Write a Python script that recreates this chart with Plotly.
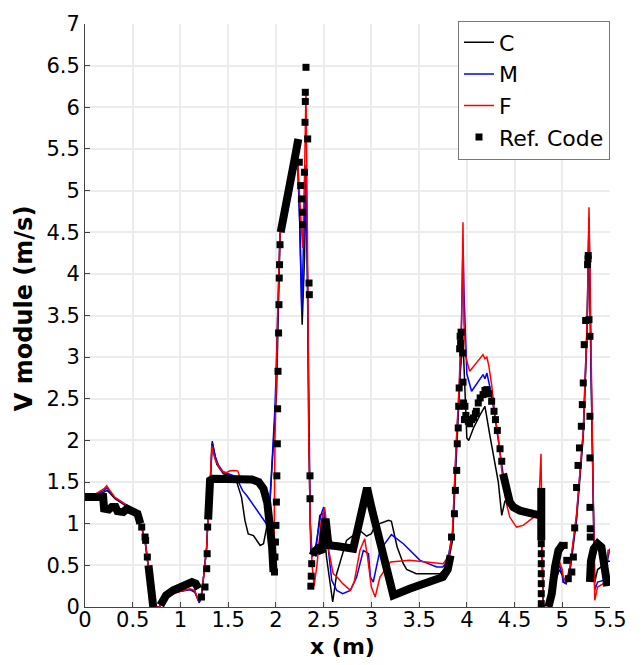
import plotly.graph_objects as go

# ---------------- data ----------------
C_POINTS = [
    (0, 1.32), (0.1, 1.33), (0.2, 1.38), (0.23, 1.40), (0.26, 1.37), (0.314, 1.30), (0.42, 1.22),
    (0.489, 1.18), (0.559, 1.06), (0.594, 0.95), (0.629, 0.80), (0.653, 0.56), (0.681, 0.32),
    (0.709, 0.08), (0.72, 0.0), (0.78, 0.0), (0.8, 0.05), (0.85, 0.10), (0.925, 0.17), (1.0, 0.19),
    (1.1, 0.21), (1.15, 0.18), (1.197, 0.06), (1.22, 0.12), (1.247, 0.38), (1.275, 0.72),
    (1.29, 1.12), (1.31, 1.45), (1.333, 1.99), (1.38, 1.715), (1.45, 1.60), (1.52, 1.58),
    (1.59, 1.5), (1.64, 1.316), (1.676, 1.037), (1.71, 0.878), (1.765, 0.857), (1.835, 0.738),
    (1.87, 0.76), (1.903, 0.957), (1.937, 1.276), (1.972, 1.91), (2.007, 2.59), (2.043, 4.47),
    (2.1, 4.85), (2.15, 5.1), (2.2, 5.25), (2.23, 5.3), (2.25, 4.6), (2.275, 3.39), (2.30, 4.2),
    (2.315, 5.1), (2.33, 4.0), (2.345, 2.0), (2.36, 1.0), (2.38, 0.6), (2.42, 0.7), (2.46, 1.1),
    (2.49, 1.12), (2.53, 0.6), (2.567, 0.28), (2.595, 0.06), (2.637, 0.4), (2.74, 0.8),
    (2.88, 0.92), (2.95, 0.85), (3.0, 0.88), (3.04, 0.98), (3.18, 1.04), (3.21, 1.03),
    (3.27, 0.72), (3.335, 0.52), (3.37, 0.45), (3.47, 0.40), (3.72, 0.40), (3.8, 0.5),
    (3.85, 0.8), (3.89, 1.9), (3.93, 2.8), (3.96, 3.2), (3.975, 2.8), (4.0, 2.03), (4.02, 2.0),
    (4.07, 2.15), (4.14, 2.31), (4.19, 2.41), (4.24, 2.07), (4.28, 1.835), (4.33, 1.5),
    (4.366, 1.1), (4.4, 1.276), (4.45, 1.22), (4.55, 1.16), (4.7, 1.12), (4.76, 1.1),
    (4.78, 1.15), (4.8, 0.0), (4.85, 0.05), (4.92, 0.28), (4.97, 0.45), (5.0, 0.38), (5.01, 0.3),
    (5.04, 0.28), (5.08, 0.42), (5.15, 1.05), (5.22, 2.05), (5.26, 3.3), (5.28, 4.6), (5.30, 2.9),
    (5.325, 1.05), (5.34, 0.3), (5.37, 0.45), (5.43, 0.5), (5.45, 0.5), (5.48, 0.55), (5.5, 0.55),
]

M_POINTS = [
    (0, 1.32), (0.1, 1.34), (0.2, 1.40), (0.23, 1.43), (0.26, 1.39), (0.314, 1.31), (0.42, 1.23),
    (0.489, 1.185), (0.559, 1.07), (0.594, 0.95), (0.629, 0.80), (0.653, 0.56), (0.681, 0.32),
    (0.709, 0.08), (0.72, 0.0), (0.78, 0.0), (0.8, 0.05), (0.85, 0.10), (0.925, 0.17), (1.0, 0.19),
    (1.1, 0.21), (1.15, 0.18), (1.197, 0.05), (1.22, 0.12), (1.247, 0.38), (1.275, 0.72),
    (1.29, 1.12), (1.31, 1.45), (1.333, 1.97), (1.36, 1.82), (1.40, 1.70), (1.45, 1.62),
    (1.5, 1.60), (1.55, 1.58), (1.6, 1.52), (1.65, 1.40), (1.7, 1.33), (1.75, 1.25), (1.8, 1.157),
    (1.85, 1.08), (1.9, 1.0), (1.94, 1.3), (1.97, 1.9), (1.99, 2.4), (2.0, 2.75), (2.02, 3.6),
    (2.043, 4.47), (2.1, 4.85), (2.15, 5.1), (2.2, 5.25), (2.23, 5.3), (2.25, 4.6), (2.27, 3.55),
    (2.29, 4.4), (2.315, 5.31), (2.33, 4.0), (2.345, 2.0), (2.36, 1.0), (2.365, 0.68), (2.38, 0.6),
    (2.42, 0.75), (2.47, 1.1), (2.5, 1.2), (2.53, 0.88), (2.585, 0.32), (2.637, 0.2), (2.7, 0.16),
    (2.78, 0.2), (2.846, 0.36), (2.916, 0.68), (2.97, 0.64), (2.99, 0.36), (3.02, 0.30),
    (3.09, 0.68), (3.21, 0.87), (3.335, 0.76), (3.51, 0.56), (3.685, 0.48), (3.75, 0.48),
    (3.8, 0.56), (3.85, 0.9), (3.89, 1.95), (3.92, 2.6), (3.945, 3.4), (3.96, 4.35), (3.97, 3.8),
    (3.98, 3.47), (4.0, 2.8), (4.05, 2.59), (4.12, 2.71), (4.17, 2.79), (4.19, 2.74), (4.21, 2.81),
    (4.24, 2.65), (4.28, 2.39), (4.33, 2.0), (4.38, 1.6), (4.435, 1.316), (4.5, 1.2), (4.6, 1.15),
    (4.7, 1.12), (4.76, 1.15), (4.78, 1.2), (4.8, 0.0), (4.85, 0.05), (4.92, 0.3), (4.97, 0.5),
    (5.0, 0.4), (5.01, 0.3), (5.04, 0.28), (5.08, 0.45), (5.15, 1.1), (5.22, 2.1), (5.26, 3.4),
    (5.28, 4.68), (5.30, 3.0), (5.325, 1.1), (5.34, 0.2), (5.37, 0.3), (5.43, 0.32), (5.45, 0.35),
    (5.48, 0.6), (5.5, 0.7),
]

F_POINTS = [
    (0, 1.32), (0.1, 1.35), (0.2, 1.42), (0.227, 1.455), (0.26, 1.40), (0.314, 1.316),
    (0.42, 1.237), (0.489, 1.19), (0.559, 1.077), (0.594, 0.957), (0.629, 0.80), (0.653, 0.56),
    (0.681, 0.32), (0.709, 0.08), (0.72, 0.0), (0.78, 0.0), (0.8, 0.05), (0.85, 0.10),
    (0.925, 0.16), (1.0, 0.19), (1.1, 0.22), (1.15, 0.20), (1.187, 0.08), (1.22, 0.16),
    (1.247, 0.40), (1.275, 0.72), (1.29, 1.12), (1.31, 1.435), (1.327, 1.93), (1.36, 1.78),
    (1.414, 1.655), (1.45, 1.62), (1.484, 1.615), (1.52, 1.635), (1.554, 1.64), (1.6, 1.635),
    (1.624, 1.555), (1.7, 1.52), (1.8, 1.50), (1.87, 1.38), (1.92, 1.10), (1.956, 0.84),
    (1.97, 0.50), (1.978, 0.42), (1.99, 2.0), (2.0, 2.7), (2.02, 3.6), (2.043, 4.47), (2.1, 4.85),
    (2.15, 5.1), (2.2, 5.25), (2.23, 5.3), (2.25, 4.9), (2.28, 4.31), (2.30, 5.2), (2.315, 6.22),
    (2.33, 4.5), (2.345, 2.0), (2.36, 1.0), (2.38, 0.5), (2.40, 0.25), (2.43, 0.5), (2.47, 1.0),
    (2.51, 1.2), (2.53, 1.0), (2.55, 0.7), (2.6, 0.4), (2.64, 0.36), (2.7, 0.28), (2.78, 0.2),
    (2.82, 0.3), (2.88, 0.68), (2.93, 0.82), (2.96, 0.6), (3.0, 0.24), (3.04, 0.12), (3.09, 0.36),
    (3.2, 0.54), (3.4, 0.56), (3.6, 0.54), (3.75, 0.52), (3.81, 0.6), (3.85, 0.9), (3.89, 1.99),
    (3.92, 2.67), (3.945, 3.47), (3.96, 4.62), (3.97, 3.4), (3.99, 3.0), (4.03, 2.83), (4.08, 2.9),
    (4.14, 2.99), (4.17, 3.03), (4.19, 2.98), (4.21, 3.0), (4.23, 2.9), (4.26, 2.67), (4.295, 2.31),
    (4.33, 2.03), (4.37, 1.6), (4.415, 1.24), (4.45, 1.08), (4.52, 0.96), (4.59, 0.98), (4.7, 1.08),
    (4.75, 1.12), (4.777, 1.84), (4.79, 0.6), (4.80, 0.0), (4.85, 0.05), (4.92, 0.3), (4.97, 0.55),
    (5.0, 0.45), (5.01, 0.36), (5.04, 0.3), (5.08, 0.48), (5.15, 1.12), (5.22, 2.11), (5.26, 3.4),
    (5.28, 4.8), (5.30, 3.0), (5.325, 1.12), (5.34, 0.08), (5.37, 0.24), (5.43, 0.28), (5.45, 0.32),
    (5.48, 0.68), (5.5, 0.68),
]

# Reference code: densely packed stretches (markers overlap into a solid band)
REF_DENSE_SEGMENTS = [
    [(0, 1.32), (0.19, 1.32), (0.20, 1.18), (0.25, 1.17), (0.28, 1.2), (0.32, 1.2), (0.34, 1.15),
     (0.40, 1.14), (0.44, 1.18), (0.50, 1.16), (0.55, 1.12), (0.58, 1.0)],
    [(0.665, 0.5), (0.69, 0.3), (0.715, 0.0)],
    [(0.79, 0.02), (0.85, 0.14), (0.925, 0.2), (1.0, 0.24), (1.066, 0.28), (1.12, 0.3),
     (1.16, 0.28), (1.19, 0.22)],
    [(1.29, 1.05), (1.30, 1.4), (1.31, 1.52), (1.34, 1.54), (1.6, 1.54), (1.75, 1.53), (1.82, 1.5),
     (1.87, 1.42), (1.91, 1.25), (1.94, 1.0), (1.96, 0.72), (1.975, 0.42)],
    [(2.05, 4.5), (2.1, 4.85), (2.15, 5.1), (2.2, 5.4), (2.235, 5.62)],
    [(2.385, 0.62), (2.40, 0.66), (2.44, 0.7), (2.48, 0.66), (2.50, 0.85), (2.52, 1.06),
     (2.545, 0.8), (2.56, 0.74), (2.65, 0.73), (2.75, 0.7), (2.81, 0.7), (2.86, 0.95), (2.92, 1.3),
     (2.955, 1.43), (3.0, 1.2), (3.1, 0.7), (3.2, 0.2), (3.23, 0.14), (3.4, 0.22), (3.6, 0.3),
     (3.75, 0.36), (3.8, 0.45), (3.83, 0.62)],
    [(4.38, 1.6), (4.415, 1.435), (4.45, 1.26), (4.487, 1.2), (4.557, 1.157), (4.697, 1.117),
     (4.75, 1.1), (4.77, 1.1)],
    [(4.78, 0.8), (4.78, 1.43)],
    [(4.855, 0.0), (4.89, 0.16), (4.924, 0.48), (4.96, 0.68), (5.01, 0.76)],
    [(5.29, 0.3), (5.30, 0.55), (5.33, 0.7), (5.37, 0.76), (5.41, 0.72), (5.44, 0.55),
     (5.46, 0.35), (5.47, 0.25)],
]

# Reference code: separate square markers
REF_POINTS = [
    (0.594, 0.96), (0.629, 0.84), (0.635, 0.80), (0.653, 0.6),
    (1.22, 0.12), (1.257, 0.24), (1.275, 0.46), (1.28, 0.64), (1.285, 0.96),
    (1.985, 0.42), (1.99, 0.6), (1.995, 0.78), (2.0, 0.98), (2.005, 1.26), (2.01, 1.575),
    (2.015, 1.96), (2.018, 2.38), (2.022, 2.83), (2.028, 3.29), (2.032, 3.63), (2.035, 3.95),
    (2.038, 4.11), (2.043, 4.35),
    (2.245, 5.34), (2.26, 5.06), (2.267, 4.90), (2.28, 4.74), (2.28, 4.59), (2.305, 5.82),
    (2.308, 6.18), (2.308, 6.07), (2.315, 6.48), (2.333, 5.62), (2.30, 5.22), (2.347, 3.89),
    (2.35, 3.75),
    (2.357, 1.575), (2.357, 1.30), (2.366, 0.25), (2.37, 0.37), (2.375, 0.52),
    (3.84, 0.84), (3.87, 1.12), (3.88, 1.40), (3.894, 1.64), (3.90, 1.96), (3.91, 2.15),
    (3.915, 2.41), (3.92, 2.63), (3.925, 3.1), (3.93, 3.25), (3.94, 3.30), (3.935, 3.17),
    (3.957, 3.05), (3.96, 2.7), (3.965, 2.45), (3.98, 2.41), (3.975, 2.25), (3.99, 2.3),
    (4.016, 2.23), (4.03, 2.2), (4.05, 2.25), (4.07, 2.27), (4.09, 2.32), (4.10, 2.35),
    (4.12, 2.45), (4.14, 2.51), (4.17, 2.55), (4.19, 2.6), (4.21, 2.61), (4.23, 2.56),
    (4.26, 2.47), (4.285, 2.35), (4.30, 2.25), (4.32, 2.12), (4.348, 1.90), (4.366, 1.75),
    (4.78, 0.76), (4.78, 0.64), (4.78, 0.52), (4.78, 0.40), (4.78, 0.28), (4.78, 0.16), (4.78, 0.04),
    (5.02, 0.74), (5.047, 0.56), (5.063, 0.34), (5.10, 0.42), (5.116, 0.6), (5.13, 0.95),
    (5.15, 1.435), (5.165, 1.7), (5.18, 1.91), (5.20, 2.17), (5.21, 2.43), (5.22, 2.69),
    (5.23, 3.15), (5.245, 3.44), (5.265, 4.11), (5.27, 4.18), (5.272, 4.22), (5.28, 3.45),
    (5.29, 3.25), (5.29, 2.29), (5.29, 1.79), (5.29, 1.196), (5.293, 0.94), (5.293, 0.84),
]

X_TICKS = [0, 0.5, 1, 1.5, 2, 2.5, 3, 3.5, 4, 4.5, 5, 5.5]
Y_TICKS = [0, 0.5, 1, 1.5, 2, 2.5, 3, 3.5, 4, 4.5, 5, 5.5, 6, 6.5, 7]
X_TITLE = "x (m)"
Y_TITLE = "V module (m/s)"

# ---------------- figure ----------------
FONT = "DejaVu Sans"


def unzip(points):
    return [p[0] for p in points], [p[1] for p in points]


fig = go.Figure()
for name, pts, color in [("C", C_POINTS, "black"), ("M", M_POINTS, "#0000ff"), ("F", F_POINTS, "#ff0000")]:
    xs, ys = unzip(pts)
    fig.add_trace(go.Scatter(x=xs, y=ys, mode="lines", name=name,
                             line=dict(color=color, width=1.5)))

band_x, band_y = [], []
for seg in REF_DENSE_SEGMENTS:
    sx, sy = unzip(seg)
    band_x += sx + [None]
    band_y += sy + [None]
fig.add_trace(go.Scatter(x=band_x, y=band_y, mode="lines", showlegend=False,
                         line=dict(color="black", width=8), connectgaps=False,
                         hoverinfo="skip"))

rx, ry = unzip(REF_POINTS)
fig.add_trace(go.Scatter(x=rx, y=ry, mode="markers", name="Ref. Code",
                         marker=dict(symbol="square", size=7, color="black")))

axis_common = dict(showgrid=True, gridcolor="#ececec", gridwidth=1.5,
                   showline=True, linecolor="#444", linewidth=1,
                   ticks="inside", ticklen=5, tickcolor="#444",
                   zeroline=False, automargin=False,
                   tickfont=dict(family=FONT, size=21, color="black"))

fig.update_layout(
    width=642, height=665,
    margin=dict(l=77, r=40, t=13, b=66),
    paper_bgcolor="white", plot_bgcolor="white",
    font=dict(family=FONT, color="black"),
    xaxis=dict(range=[0, 5.5], tickvals=X_TICKS, ticktext=[f"{v:g}" for v in X_TICKS],
               ticklabelstandoff=-6, **axis_common),
    yaxis=dict(range=[0, 7], tickvals=Y_TICKS, ticktext=[f"{v:g}" for v in Y_TICKS],
               **axis_common),
    legend=dict(x=1.0, xanchor="right", y=1.006, yanchor="top",
                bgcolor="white", bordercolor="#777", borderwidth=1,
                font=dict(family=FONT, size=22, color="black"),
                itemwidth=30, tracegroupgap=0),
    showlegend=True,
    annotations=[
        dict(text=f"<b>{X_TITLE}</b>", xref="paper", yref="paper", x=0.49, y=-0.067,
             xanchor="center", yanchor="middle", showarrow=False,
             font=dict(family=FONT, size=22, color="black")),
        dict(text=f"<b>{Y_TITLE}</b>", xref="paper", yref="paper", x=-0.1168, y=0.512,
             xanchor="center", yanchor="middle", showarrow=False, textangle=-90,
             font=dict(family=FONT, size=24, color="black")),
    ],
)

fig.write_html("out.html")
